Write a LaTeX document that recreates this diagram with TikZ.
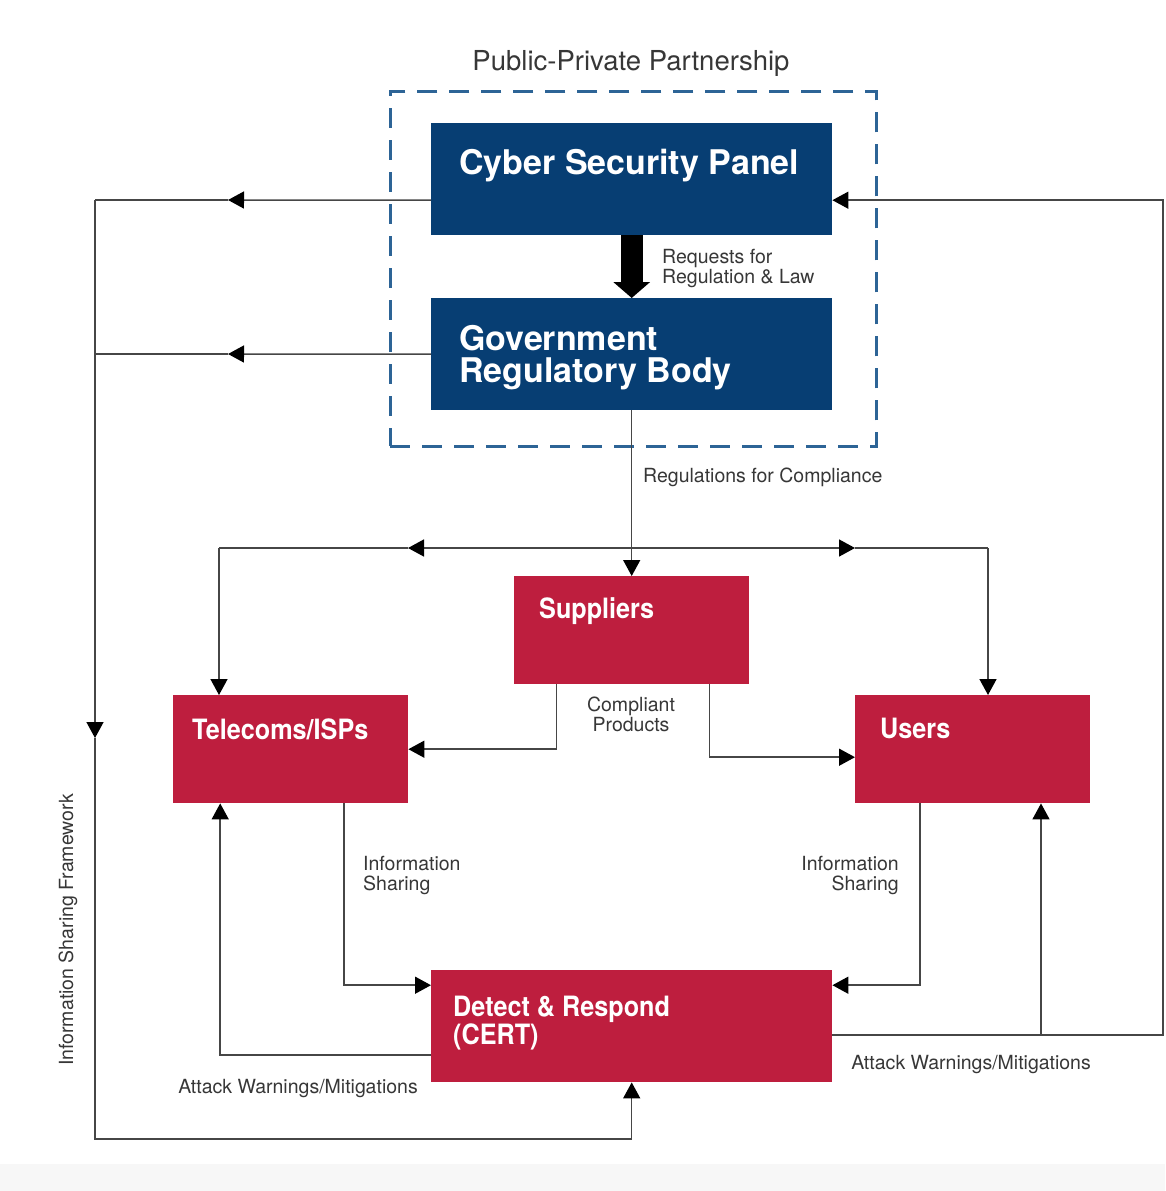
\documentclass[tikz,border=0pt]{standalone}
\usepackage{fontspec}
\setmainfont{TeX Gyre Heros}
\newfontfamily\redfont[FakeStretch=0.9]{TeX Gyre Heros}
\usetikzlibrary{arrows.meta}
\definecolor{cblue}{RGB}{7,62,115}
\definecolor{cred}{RGB}{190,30,62}
\definecolor{cdash}{RGB}{45,100,150}
\definecolor{cline}{RGB}{70,70,70}
\definecolor{ctext}{RGB}{55,55,55}
\begin{document}
\begin{tikzpicture}[x=1pt,y=-1pt,
  bluebox/.style={fill=cblue, draw=none, minimum width=401pt, minimum height=112pt, inner sep=0pt, anchor=north west},
  redbox/.style={fill=cred, draw=none, minimum width=235pt, minimum height=108pt, inner sep=0pt, anchor=north west},
  boxtitle/.style={text=white, font=\fontsize{34}{32}\selectfont\bfseries, inner sep=0pt, align=left, anchor=north west},
  redtitle/.style={text=white, font=\redfont\fontsize{28}{25}\selectfont\bfseries, inner sep=0pt, align=left, anchor=north west},
  lbl/.style={text=ctext, font=\fontsize{19.5}{20.5}\selectfont, inner sep=0pt},
  link/.style={draw=cline, line width=1.5pt},
  conn/.style={link, -{Triangle[length=16pt,width=17pt,color=black]}},
  ppp/.style={draw=cdash, line width=2.5pt, dash pattern=on 20pt off 12pt}
]
\useasboundingbox[fill=white] (0,0) rectangle (1165,1191);
\fill[black!3] (0,1164) rectangle (1165,1191);

% public-private partnership frame
\node[ppp, minimum width=486pt, minimum height=355pt, anchor=north west, inner sep=0pt] (pppbox) at (389,90) {};
\node[lbl, font=\fontsize{27.5}{29}\selectfont, anchor=north] (ppplabel) at (631,50) {Public-Private Partnership};

% boxes
\node[bluebox] (csp) at (431,123) {};
\node[boxtitle] (csp-t) at (459,149) {Cyber Security Panel};
\node[bluebox] (grb) at (431,298) {};
\node[boxtitle] (grb-t) at (459,325) {Government\\Regulatory Body};
\node[redbox] (sup) at (514,576) {};
\node[redtitle] (sup-t) at (539,597) {Suppliers};
\node[redbox] (tel) at (173,695) {};
\node[redtitle] (tel-t) at (192,719) {Telecoms/ISPs};
\node[redbox] (usr) at (855,695) {};
\node[redtitle] (usr-t) at (880,718) {Users};
\node[redbox, minimum width=401pt, minimum height=112pt] (cert) at (431,970) {};
\node[redtitle] (cert-t) at (453,996) {Detect \& Respond\\(CERT)};

% thick arrow
\draw[draw=black, line width=22pt, -{Triangle[length=16pt,width=36pt]}] (csp.south) -- (grb.north);
\node[lbl, anchor=north west, align=left, font=\fontsize{19.5}{20}\selectfont] (req) at (662,249) {Requests for\\Regulation \& Law};

% regulations
\draw[conn] (grb.south) -- (sup.north);
\node[lbl, anchor=north west] (regc) at (643,468) {Regulations for Compliance};

\coordinate (jc) at (631,548);
\coordinate (jl) at (219,548);
\coordinate (jr) at (988,548);
\coordinate (ml) at (408,548);
\coordinate (mr) at (855,548);
\draw[conn] (jc) -- (ml);
\draw[link] (ml) -- (jl);
\draw[conn] (jc) -- (mr);
\draw[link] (mr) -- (jr);
\draw[conn] (jl) -- (jl |- tel.north);
\draw[conn] (jr) -- (jr |- usr.north);

% compliant products
\draw[conn] ([xshift=-75pt]sup.south) |- (tel.east);
\draw[conn] ([xshift=78pt]sup.south) |- ([yshift=-8pt]usr.west);
\node[lbl, anchor=north, align=center, font=\fontsize{19.5}{20}\selectfont] (cp) at (631,697) {Compliant\\Products};

% information sharing
\draw[conn] ([xshift=53.5pt]tel.south) |- ([yshift=41pt]cert.west);
\draw[conn] ([xshift=-52.5pt]usr.south) |- ([yshift=41pt]cert.east);
\node[lbl, anchor=north west, align=left, font=\fontsize{19.5}{20}\selectfont] (isl) at (363,856) {Information\\Sharing};
\node[lbl, anchor=north east, align=right, font=\fontsize{19.5}{20}\selectfont] (isr) at (899,856) {Information\\Sharing};

% attack warnings
\draw[conn] ([yshift=-29pt]cert.west) -| ([xshift=-70.5pt]tel.south);
\node[lbl, anchor=north] (awl) at (298,1079) {Attack Warnings/Mitigations};
\coordinate (rt) at (1163,600);
\draw[conn] ([yshift=-9pt]cert.east) -| (rt) |- ([yshift=-21pt]csp.east);
\coordinate (br) at (1041,1035);
\draw[conn] (br) -- (br |- usr.south);
\node[lbl, anchor=north] (awr) at (971,1055) {Attack Warnings/Mitigations};

% information sharing framework
\coordinate (a1) at (228,200);
\coordinate (a2) at (228,354);
\coordinate (lt) at (95,200);
\coordinate (lm) at (95,354);
\coordinate (a3) at (95,738);
\coordinate (lb) at (95,1139);
\draw[conn] ([yshift=-21pt]csp.west) -- (a1);
\draw[link] (a1) -- (lt);
\draw[conn] (grb.west) -- (a2);
\draw[link] (a2) -- (lm);
\draw[conn] (lt) -- (a3);
\draw[conn] (a3) -- (lb) -| (cert.south);
\node[lbl, rotate=90] (isf) at (68,930) {Information Sharing Framework};
\end{tikzpicture}
\end{document}
